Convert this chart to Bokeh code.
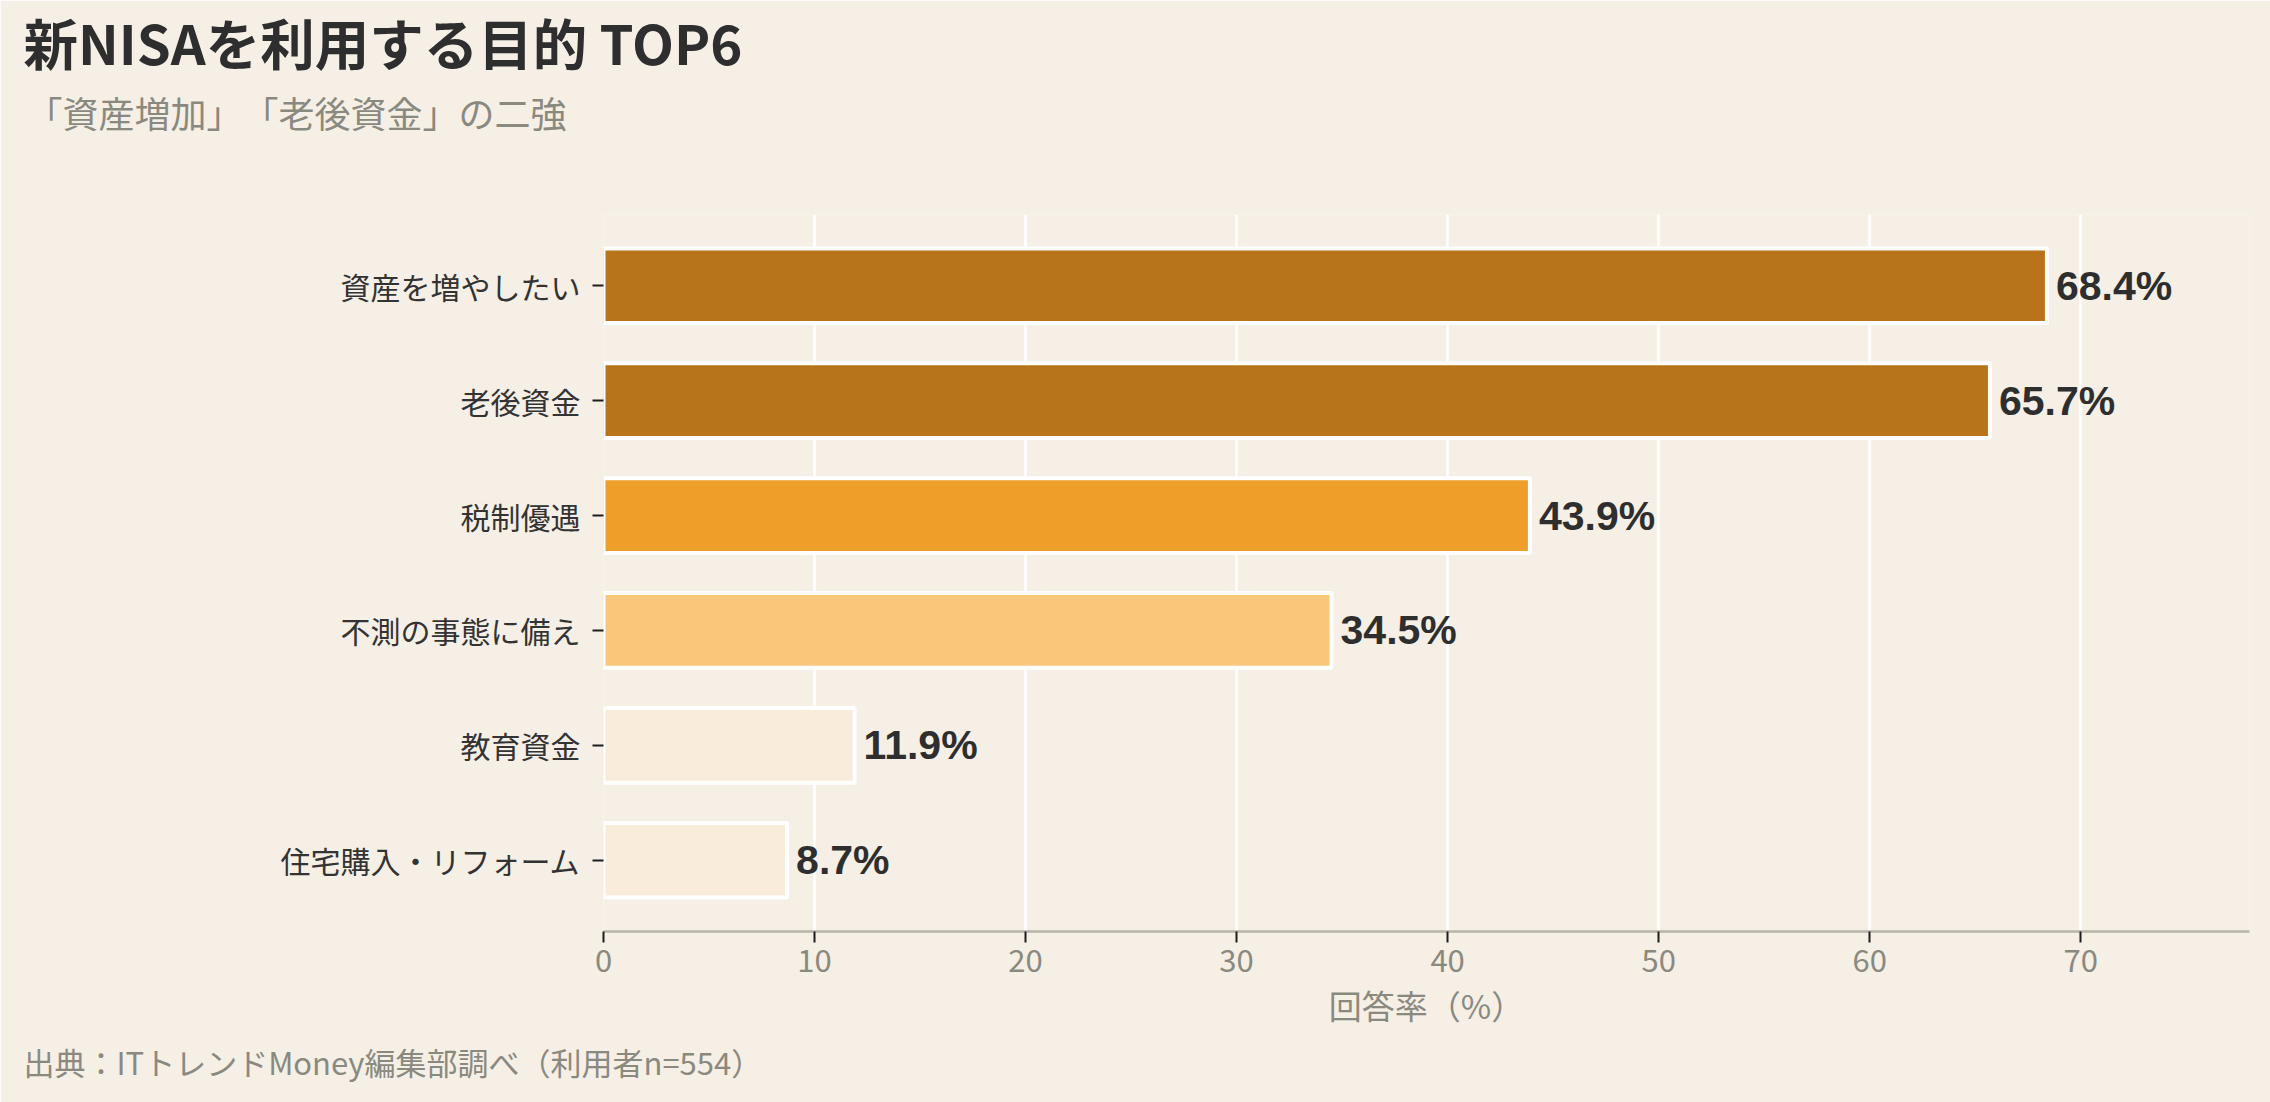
from bokeh.plotting import figure
from bokeh.models import Range1d, FixedTicker, ColumnDataSource, Title
from bokeh.core.properties import value
from bokeh.embed import file_html
from bokeh.resources import INLINE

# ---- data ----
categories = ["資産を増やしたい", "老後資金", "税制優遇", "不測の事態に備え", "教育資金", "住宅購入・リフォーム"]
rates = [68.4, 65.7, 43.9, 34.5, 11.9, 8.7]
bar_colors = ["#B8741A", "#B8741A", "#EE9F2A", "#F9C77A", "#F9ECDB", "#F9ECDB"]
x_ticks = [0, 10, 20, 30, 40, 50, 60, 70]
title_text = "新NISAを利用する目的 TOP6"
subtitle_text = "「資産増加」　「老後資金」の二強"
x_label = "回答率（%）"
source_text = "出典：ITトレンドMoney編集部調べ（利用者n=554）"

FONT = "Noto Sans CJK JP"
NUMFONT = "Liberation Sans"
BG = "#F5EFE6"
DARK = "#2E2E2E"
GRAY = "#8A8980"

n = len(categories)
ypos = list(range(n - 1, -1, -1))
labels = [f"{v}%" for v in rates]
src = ColumnDataSource(dict(y=ypos, x=rates, color=bar_colors, label=labels))

p = figure(width=2270, height=1102, output_backend="svg", toolbar_location=None,
           x_range=Range1d(0, 78), y_range=Range1d(-0.62, n - 1 + 0.62),
           min_border_left=603, min_border_right=21, min_border_top=214, min_border_bottom=171)
p.background_fill_color = BG
p.border_fill_color = BG
p.outline_line_color = None

# ---- title block (above panels stack outward from the plot frame) ----
# empty spacer nearest the frame, then subtitle, then main title (outermost)
p.add_layout(Title(text=" ", text_font_size="10px", standoff=50), "above")
p.add_layout(Title(text=subtitle_text, align="left", offset=-577, text_font=FONT,
                   text_font_size="36px", text_font_style="normal", text_color=GRAY,
                   standoff=27), "above")
p.title.text = title_text
p.title.align = "left"
p.title.offset = -580
p.title.standoff = -20
p.title.text_font = FONT
p.title.text_font_size = "54.5px"
p.title.text_font_style = "bold"
p.title.text_color = DARK

# source note
p.add_layout(Title(text=source_text, align="left", offset=-580, text_font=FONT,
                   text_font_size="31px", text_font_style="normal", text_color=GRAY), "below")

# ---- bars and value labels ----
p.hbar(y="y", right="x", left=0, height=0.65, fill_color="color", line_color="white",
       line_width=4, source=src)

p.text(x="x", y="y", text="label", source=src, x_offset=9, text_baseline="middle",
       text_align="left", text_font=value(NUMFONT), text_font_size="41px",
       text_font_style="bold", text_color=DARK)

# ---- grid and axes ----
p.ygrid.visible = False
p.xgrid.ticker = FixedTicker(ticks=x_ticks)
p.xgrid.grid_line_color = "white"
p.xgrid.grid_line_width = 2.5

p.xaxis.ticker = FixedTicker(ticks=x_ticks)
p.xaxis.axis_line_color = "#B8B5AA"
p.xaxis.axis_line_width = 2.5
p.xaxis.major_tick_line_color = "#1E1E1E"
p.xaxis.major_tick_line_width = 2
p.xaxis.major_tick_out = 11
p.xaxis.major_tick_in = 0
p.xaxis.minor_tick_line_color = None
p.xaxis.major_label_text_font = FONT
p.xaxis.major_label_text_font_size = "31px"
p.xaxis.major_label_text_color = GRAY
p.xaxis.major_label_standoff = 6
p.xaxis.axis_label = x_label
p.xaxis.axis_label_text_font = FONT
p.xaxis.axis_label_text_font_size = "33px"
p.xaxis.axis_label_text_font_style = "normal"
p.xaxis.axis_label_text_color = GRAY
p.xaxis.axis_label_standoff = 6

p.yaxis.ticker = FixedTicker(ticks=ypos)
p.yaxis.major_label_overrides = {y: c for y, c in zip(ypos, categories)}
p.yaxis.axis_line_color = None
p.yaxis.major_tick_line_color = "#1E1E1E"
p.yaxis.major_tick_line_width = 2
p.yaxis.major_tick_out = 11
p.yaxis.major_tick_in = 0
p.yaxis.minor_tick_line_color = None
p.yaxis.major_label_text_font = FONT
p.yaxis.major_label_text_font_size = "30px"
p.yaxis.major_label_text_color = "#333333"
p.yaxis.major_label_standoff = 12

open("out.html", "w").write(file_html(p, INLINE))
